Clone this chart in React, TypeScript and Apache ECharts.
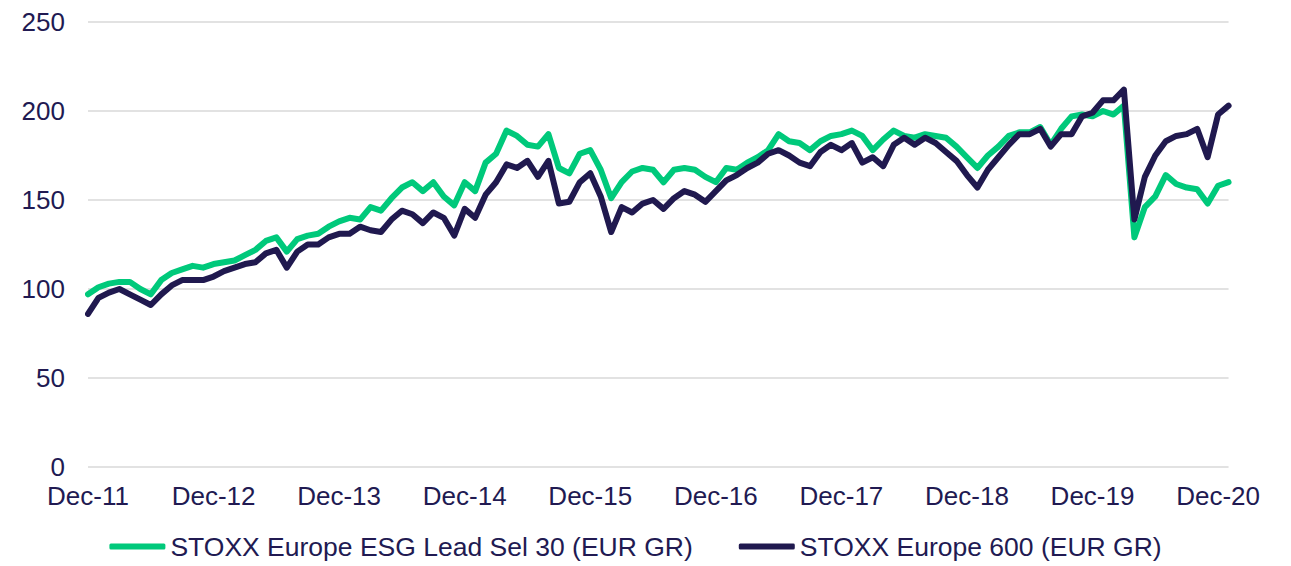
import React, { useEffect, useRef } from "react";
import * as echarts from "echarts";

const MONTH_NAMES = ["Jan", "Feb", "Mar", "Apr", "May", "Jun", "Jul", "Aug", "Sep", "Oct", "Nov", "Dec"];
// Monthly observation dates, Dec-11 through Jan-21
const months: string[] = [];
for (let i = 0; i < 110; i++) {
  const mi = (11 + i) % 12;
  const yr = 11 + Math.floor((11 + i) / 12);
  months.push(`${MONTH_NAMES[mi]}-${yr}`);
}

const esgLead30 = [
  97, 101, 103, 104, 104, 100, 97, 105, 109, 111, 113, 112,
  114, 115, 116, 119, 122, 127, 129, 121, 128, 130, 131, 135,
  138, 140, 139, 146, 144, 151, 157, 160, 155, 160, 152, 147,
  160, 155, 171, 176, 189, 186, 181, 180, 187, 168, 165, 176,
  178, 167, 151, 160, 166, 168, 167, 160, 167, 168, 167, 163,
  160, 168, 167, 171, 174, 178, 187, 183, 182, 178, 183, 186,
  187, 189, 186, 178, 184, 189, 186, 185, 187, 186, 185, 180,
  174, 168, 175, 180, 186, 188, 188, 191, 181, 190, 197, 198,
  197, 200, 198, 203, 129, 146, 152, 164, 159, 157, 156, 148,
  158, 160,
];

const stoxx600 = [
  86, 95, 98, 100, 97, 94, 91, 97, 102, 105, 105, 105,
  107, 110, 112, 114, 115, 120, 122, 112, 121, 125, 125, 129,
  131, 131, 135, 133, 132, 139, 144, 142, 137, 143, 140, 130,
  145, 140, 153, 160, 170, 168, 172, 163, 172, 148, 149, 160,
  165, 152, 132, 146, 143, 148, 150, 145, 151, 155, 153, 149,
  155, 161, 164, 168, 171, 176, 178, 175, 171, 169, 177, 181,
  178, 182, 171, 174, 169, 181, 185, 181, 185, 182, 177, 172,
  164, 157, 167, 174, 181, 187, 187, 190, 180, 187, 187, 197,
  199, 206, 206, 212, 139, 163, 175, 183, 186, 187, 190, 174,
  198, 203,
];

const yTicks = { min: 0, max: 250, interval: 50 };

const TEXT = "#211a52";
const GREEN = "#00c97b";
const NAVY = "#20194f";
const FONT = "'Liberation Sans', Arial, Helvetica, sans-serif";

export default function App() {
  const ref = useRef<HTMLDivElement>(null);
  useEffect(() => {
    if (!ref.current) return;
    const chart = echarts.init(ref.current, undefined, { renderer: "svg" });
    chart.setOption({
      animation: false,
      textStyle: { fontFamily: FONT },
      grid: { left: 80, right: 30, top: 14, bottom: 99, containLabel: false },
      legend: {
        bottom: 1,
        left: "center",
        itemWidth: 56,
        itemHeight: 6,
        itemGap: 46,
        icon: "roundRect",
        textStyle: { fontSize: 26.5, color: TEXT, fontFamily: FONT },
        data: [
          { name: "STOXX Europe ESG Lead Sel 30 (EUR GR)", itemStyle: { color: GREEN } },
          { name: "STOXX Europe 600 (EUR GR)", itemStyle: { color: NAVY } },
        ],
      },
      xAxis: {
        type: "category",
        data: months,
        boundaryGap: false,
        axisLine: { show: false },
        axisTick: { show: false },
        axisLabel: {
          interval: (index: number) => index % 12 === 0,
          fontSize: 26,
          color: TEXT,
          margin: 16,
          fontFamily: FONT,
        },
        splitLine: { show: false },
      },
      yAxis: {
        type: "value",
        min: yTicks.min,
        max: yTicks.max,
        interval: yTicks.interval,
        axisLine: { show: false },
        axisTick: { show: false },
        axisLabel: { fontSize: 26, color: TEXT, margin: 23, fontFamily: FONT },
        splitLine: { lineStyle: { color: "#d9d9d9", width: 1.5 } },
      },
      series: [
        {
          name: "STOXX Europe ESG Lead Sel 30 (EUR GR)",
          type: "line",
          data: esgLead30,
          showSymbol: false,
          symbol: "none",
          lineStyle: { color: GREEN, width: 6, join: "round", cap: "round" },
          itemStyle: { color: GREEN },
        },
        {
          name: "STOXX Europe 600 (EUR GR)",
          type: "line",
          data: stoxx600,
          showSymbol: false,
          symbol: "none",
          lineStyle: { color: NAVY, width: 6, join: "round", cap: "round" },
          itemStyle: { color: NAVY },
        },
      ],
    });
    return () => chart.dispose();
  }, []);
  return <div ref={ref} style={{ width: 1255, height: 558 }} />;
}
